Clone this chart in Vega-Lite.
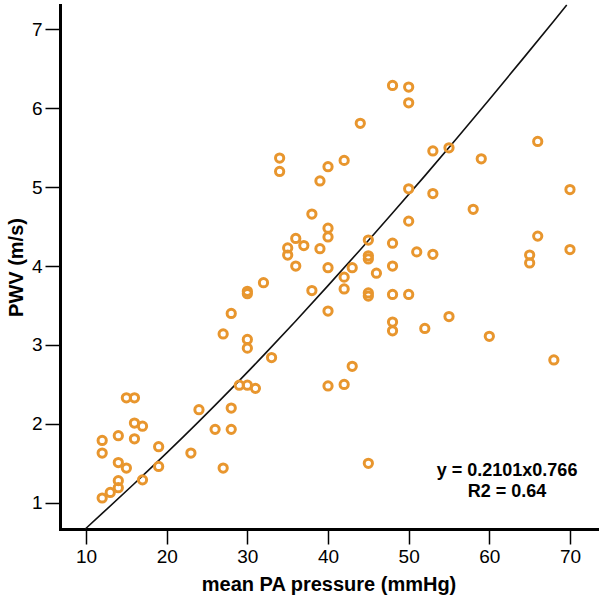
{
  "$schema": "https://vega.github.io/schema/vega-lite/v6.json",
  "width": 537,
  "height": 524,
  "autosize": "none",
  "padding": {"left": 60, "top": 5, "right": 3, "bottom": 71},
  "background": "white",
  "config": {
    "view": {"stroke": null},
    "font": "Liberation Sans",
    "axis": {
      "grid": false,
      "domainColor": "#000000",
      "domainWidth": 3,
      "domainCap": "square",
      "tickColor": "#000000",
      "tickWidth": 1.5,
      "tickSize": 15,
      "labelFont": "Liberation Sans",
      "labelFontSize": 19,
      "labelColor": "#000000",
      "labelPadding": 3,
      "titleFont": "Liberation Sans",
      "titleFontSize": 20,
      "titleFontWeight": "bold",
      "titleColor": "#000000"
    }
  },
  "datasets": {
    "pts": [
      {"pa": 12, "pwv": 1.79}, {"pa": 12, "pwv": 1.63}, {"pa": 12, "pwv": 1.06},
      {"pa": 13, "pwv": 1.13}, {"pa": 14, "pwv": 1.85}, {"pa": 14, "pwv": 1.51},
      {"pa": 14, "pwv": 1.28}, {"pa": 14, "pwv": 1.19}, {"pa": 15, "pwv": 2.33},
      {"pa": 15, "pwv": 1.44}, {"pa": 16, "pwv": 2.33}, {"pa": 16, "pwv": 2.01},
      {"pa": 16, "pwv": 1.81}, {"pa": 17, "pwv": 1.97}, {"pa": 17, "pwv": 1.29},
      {"pa": 19, "pwv": 1.71}, {"pa": 19, "pwv": 1.46}, {"pa": 23, "pwv": 1.63},
      {"pa": 24, "pwv": 2.18}, {"pa": 26, "pwv": 1.93}, {"pa": 27, "pwv": 3.14},
      {"pa": 27, "pwv": 1.44}, {"pa": 28, "pwv": 3.40}, {"pa": 28, "pwv": 2.20},
      {"pa": 28, "pwv": 1.93}, {"pa": 29, "pwv": 2.49}, {"pa": 30, "pwv": 3.07},
      {"pa": 30, "pwv": 2.96}, {"pa": 30, "pwv": 2.49}, {"pa": 30, "pwv": 3.68},
      {"pa": 30, "pwv": 3.65}, {"pa": 31, "pwv": 2.45}, {"pa": 32, "pwv": 3.79},
      {"pa": 33, "pwv": 2.84}, {"pa": 34, "pwv": 5.37}, {"pa": 34, "pwv": 5.20},
      {"pa": 35, "pwv": 4.23}, {"pa": 35, "pwv": 4.14}, {"pa": 36, "pwv": 4.35},
      {"pa": 36, "pwv": 4.00}, {"pa": 37, "pwv": 4.26}, {"pa": 38, "pwv": 4.66},
      {"pa": 38, "pwv": 3.69}, {"pa": 39, "pwv": 5.08}, {"pa": 39, "pwv": 4.22},
      {"pa": 40, "pwv": 5.26}, {"pa": 40, "pwv": 4.48}, {"pa": 40, "pwv": 4.37},
      {"pa": 40, "pwv": 3.98}, {"pa": 40, "pwv": 3.43}, {"pa": 40, "pwv": 2.48},
      {"pa": 42, "pwv": 5.34}, {"pa": 42, "pwv": 3.86}, {"pa": 42, "pwv": 3.71},
      {"pa": 42, "pwv": 2.50}, {"pa": 43, "pwv": 3.98}, {"pa": 43, "pwv": 2.73},
      {"pa": 44, "pwv": 5.81}, {"pa": 45, "pwv": 4.33}, {"pa": 45, "pwv": 4.13},
      {"pa": 45, "pwv": 4.09}, {"pa": 45, "pwv": 3.66}, {"pa": 45, "pwv": 3.62},
      {"pa": 45, "pwv": 1.50}, {"pa": 46, "pwv": 3.91}, {"pa": 48, "pwv": 6.29},
      {"pa": 48, "pwv": 4.29}, {"pa": 48, "pwv": 4.00}, {"pa": 48, "pwv": 3.64},
      {"pa": 48, "pwv": 3.29}, {"pa": 48, "pwv": 3.18}, {"pa": 50, "pwv": 6.27},
      {"pa": 50, "pwv": 6.07}, {"pa": 50, "pwv": 4.98}, {"pa": 50, "pwv": 4.57},
      {"pa": 50, "pwv": 3.64}, {"pa": 51, "pwv": 4.18}, {"pa": 52, "pwv": 3.21},
      {"pa": 53, "pwv": 5.46}, {"pa": 53, "pwv": 4.92}, {"pa": 53, "pwv": 4.15},
      {"pa": 55, "pwv": 5.50}, {"pa": 55, "pwv": 3.36}, {"pa": 58, "pwv": 4.72},
      {"pa": 59, "pwv": 5.36}, {"pa": 60, "pwv": 3.11}, {"pa": 65, "pwv": 4.14},
      {"pa": 65, "pwv": 4.04}, {"pa": 66, "pwv": 5.58}, {"pa": 66, "pwv": 4.38},
      {"pa": 68, "pwv": 2.81}, {"pa": 70, "pwv": 4.97}, {"pa": 70, "pwv": 4.21}
    ],
    "fit": [
      {"pa": 9.9, "pwv": 0.667}, {"pa": 12, "pwv": 0.864}, {"pa": 16, "pwv": 1.244},
      {"pa": 20, "pwv": 1.632}, {"pa": 24, "pwv": 2.032}, {"pa": 28, "pwv": 2.444},
      {"pa": 32, "pwv": 2.868}, {"pa": 36, "pwv": 3.304}, {"pa": 40, "pwv": 3.752},
      {"pa": 44, "pwv": 4.208}, {"pa": 48, "pwv": 4.672}, {"pa": 52, "pwv": 5.144},
      {"pa": 56, "pwv": 5.624}, {"pa": 60, "pwv": 6.112}, {"pa": 64, "pwv": 6.608},
      {"pa": 68, "pwv": 7.108}, {"pa": 69.6, "pwv": 7.31}
    ],
    "notes": [
      {"label": "y = 0.2101x0.766", "pa": 62.2, "pwv": 1.405},
      {"label": "R2 = 0.64", "pa": 62.2, "pwv": 1.136}
    ]
  },
  "layer": [
    {
      "data": {"name": "fit"},
      "mark": {"type": "line", "color": "#111111", "strokeWidth": 1.6, "interpolate": "monotone"},
      "encoding": {
        "x": {"field": "pa", "type": "quantitative", "scale": {"domain": [6.77, 73.35], "nice": false, "zero": false},
          "axis": {"values": [10, 20, 30, 40, 50, 60, 70], "format": "d", "title": "mean PA pressure (mmHg)", "titlePadding": 8}},
        "y": {"field": "pwv", "type": "quantitative", "scale": {"domain": [0.667, 7.31], "nice": false, "zero": false},
          "axis": {"values": [1, 2, 3, 4, 5, 6, 7], "format": "d", "title": "PWV (m/s)", "titleX": -44, "titleBaseline": "middle"}}
      }
    },
    {
      "data": {"name": "pts"},
      "mark": {"type": "point", "shape": "circle", "filled": false, "stroke": "#E8962E", "strokeWidth": 3, "size": 68, "opacity": 1},
      "encoding": {
        "x": {"field": "pa", "type": "quantitative"},
        "y": {"field": "pwv", "type": "quantitative"}
      }
    },
    {
      "data": {"name": "notes"},
      "mark": {"type": "text", "font": "Liberation Sans", "fontSize": 18, "fontWeight": "bold", "color": "#000000", "align": "center", "baseline": "middle"},
      "encoding": {
        "x": {"field": "pa", "type": "quantitative"},
        "y": {"field": "pwv", "type": "quantitative"},
        "text": {"field": "label", "type": "nominal"}
      }
    }
  ]
}
